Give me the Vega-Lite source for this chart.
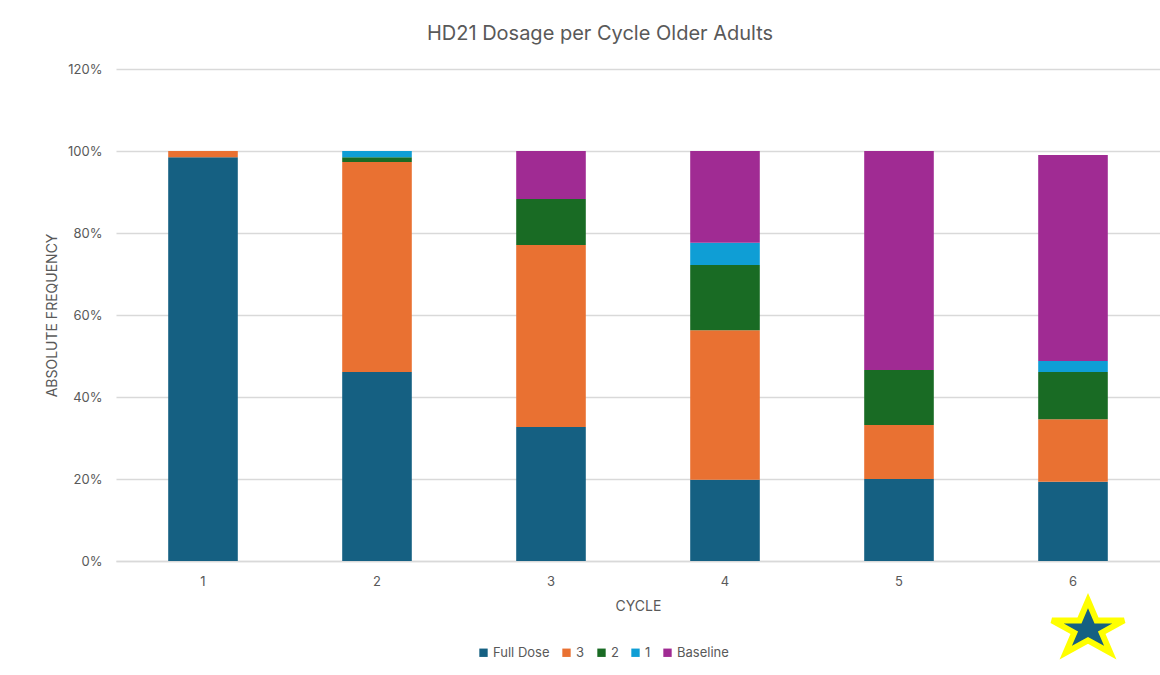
{
  "$schema": "https://vega.github.io/schema/vega-lite/v6.json",
  "padding": {"left": 45, "top": 24, "right": 0, "bottom": 5},
  "width": 1044,
  "height": 492,
  "background": "white",
  "config": {
    "view": {"stroke": null},
    "font": "Inter",
    "axis": {"labelColor": "#595959", "titleColor": "#595959", "labelFont": "Inter", "titleFont": "Inter", "titleFontWeight": "normal"}
  },
  "title": {
    "text": "HD21 Dosage per Cycle Older Adults",
    "fontSize": 20,
    "fontWeight": "normal",
    "color": "#595959",
    "font": "Inter",
    "anchor": "middle",
    "dx": -38,
    "offset": 19
  },
  "data": {
    "values": [
      {"cycle": "1", "level": "Full Dose", "rank": 1, "share": 0.985},
      {"cycle": "1", "level": "3", "rank": 2, "share": 0.015},
      {"cycle": "2", "level": "Full Dose", "rank": 1, "share": 0.461},
      {"cycle": "2", "level": "3", "rank": 2, "share": 0.512},
      {"cycle": "2", "level": "2", "rank": 3, "share": 0.012},
      {"cycle": "2", "level": "1", "rank": 4, "share": 0.015},
      {"cycle": "3", "level": "Full Dose", "rank": 1, "share": 0.327},
      {"cycle": "3", "level": "3", "rank": 2, "share": 0.444},
      {"cycle": "3", "level": "2", "rank": 3, "share": 0.112},
      {"cycle": "3", "level": "Baseline", "rank": 5, "share": 0.117},
      {"cycle": "4", "level": "Full Dose", "rank": 1, "share": 0.198},
      {"cycle": "4", "level": "3", "rank": 2, "share": 0.365},
      {"cycle": "4", "level": "2", "rank": 3, "share": 0.159},
      {"cycle": "4", "level": "1", "rank": 4, "share": 0.054},
      {"cycle": "4", "level": "Baseline", "rank": 5, "share": 0.224},
      {"cycle": "5", "level": "Full Dose", "rank": 1, "share": 0.2},
      {"cycle": "5", "level": "3", "rank": 2, "share": 0.132},
      {"cycle": "5", "level": "2", "rank": 3, "share": 0.134},
      {"cycle": "5", "level": "Baseline", "rank": 5, "share": 0.534},
      {"cycle": "6", "level": "Full Dose", "rank": 1, "share": 0.193},
      {"cycle": "6", "level": "3", "rank": 2, "share": 0.153},
      {"cycle": "6", "level": "2", "rank": 3, "share": 0.115},
      {"cycle": "6", "level": "1", "rank": 4, "share": 0.027},
      {"cycle": "6", "level": "Baseline", "rank": 5, "share": 0.502}
    ]
  },
  "layer": [
    {
      "mark": {"type": "bar"},
      "encoding": {
        "x": {
          "field": "cycle",
          "type": "nominal",
          "sort": ["1", "2", "3", "4", "5", "6"],
          "scale": {"paddingInner": 0.6, "paddingOuter": 0.3},
          "axis": {
            "title": "CYCLE",
            "labelAngle": 0,
            "labelFontSize": 13,
            "labelPadding": 14,
            "titleFontSize": 14,
            "titlePadding": 11,
            "ticks": false,
            "domainColor": "#D9D9D9",
            "domainWidth": 1.5,
            "grid": false
          }
        },
        "y": {
          "field": "share",
          "type": "quantitative",
          "stack": "zero",
          "scale": {"domain": [0, 1.2], "nice": false},
          "axis": {
            "title": "ABSOLUTE FREQUENCY",
            "format": ".0%",
            "values": [0, 0.2, 0.4, 0.6, 0.8, 1.0, 1.2],
            "labelFontSize": 13,
            "labelPadding": 14,
            "titleFontSize": 14,
            "titlePadding": 8,
            "ticks": false,
            "domain": false,
            "gridColor": "#D9D9D9",
            "gridWidth": 1.5
          }
        },
        "color": {
          "field": "level",
          "type": "nominal",
          "scale": {
            "domain": ["Full Dose", "3", "2", "1", "Baseline"],
            "range": ["#156082", "#E97132", "#196B24", "#0F9ED5", "#A02B93"]
          },
          "legend": {
            "title": null,
            "orient": "none",
            "legendX": 361,
            "legendY": 577,
            "direction": "horizontal",
            "symbolType": "square",
            "symbolSize": 70,
            "symbolStrokeWidth": 0,
            "labelFontSize": 13,
            "labelColor": "#595959",
            "labelFont": "Inter",
            "columnPadding": 10,
            "labelOffset": 3
          }
        },
        "order": {"field": "rank", "type": "quantitative"}
      }
    },
    {
      "data": {"values": [{"cycle": "6", "share": -0.16}]},
      "mark": {
        "type": "point",
        "shape": "M0,-0.7236L0.236,-0.1708L1,-0.1708L0.3817,0.1708L0.6183,0.7236L0,0.382L-0.6183,0.7236L-0.3817,0.1708L-1,-0.1708L-0.236,-0.1708Z",
        "filled": true,
        "fill": "#156082",
        "stroke": "#FFFF00",
        "strokeWidth": 6,
        "size": 5184,
        "opacity": 1,
        "xOffset": 15
      },
      "encoding": {
        "x": {"field": "cycle", "type": "nominal", "sort": ["1", "2", "3", "4", "5", "6"]},
        "y": {"field": "share", "type": "quantitative"}
      }
    }
  ]
}
